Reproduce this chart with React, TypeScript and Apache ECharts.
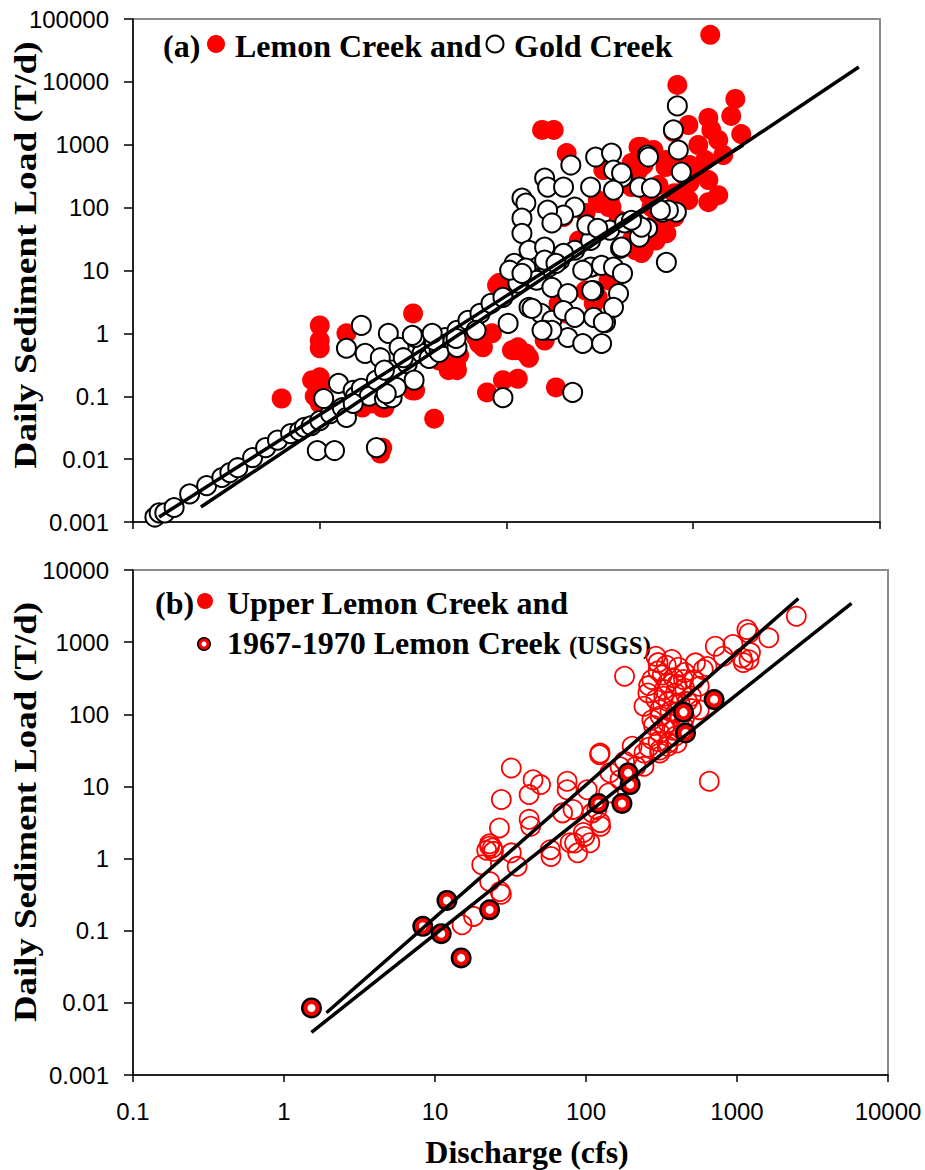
import React, { useEffect, useRef } from "react";
import * as echarts from "echarts";

// Panel (a): Lemon Creek (red filled) and Gold Creek (white) — [discharge cfs, load T/d]
const lemonCreek: number[][] = [
  [10, 1.34], [10, 0.77], [10, 0.58], [10, 0.2], [10, 0.15], [13.9, 1.0], [31.6, 2.08], [6.25, 0.092],
  [10, 0.077], [19.1, 0.077], [22.2, 0.066], [41, 0.044], [32.4, 0.124], [51.7, 0.33], [54.3, 0.26],
  [74.8, 0.6], [91, 6.3], [115, 0.6], [132, 0.41], [160, 0.77], [78.6, 0.115], [95.7, 0.18], [115, 0.19],
  [184, 0.138], [21.1, 0.0123], [155, 1720], [179, 1720], [210, 738], [509, 920], [467, 512], [1233, 56000],
  [822, 8950], [1680, 5350], [1205, 2670], [1597, 2870], [1806, 1480], [1250, 1720], [1361, 1190], [783, 1600],
  [528, 920], [1160, 571], [1064, 396], [1205, 274], [1205, 122], [908, 306], [802, 571], [710, 442], [509, 396],
  [467, 212], [597, 102], [710, 63], [528, 19], [398, 63], [352, 102], [953, 245], [793, 71], [542, 21], [718, 39],
  [308, 132], [357, 132], [311, 118], [365, 102], [265, 82], [265, 4.8], [300, 3.4], [352, 7.0], [467, 30],
  [467, 23.5], [107, 0.54], [127, 0.48], [162, 1.0], [207, 2.08], [190, 3.0], [68.7, 0.86], [83.6, 1.0],
  [53.7, 0.6], [89, 5.8], [71.2, 0.69], [53.7, 0.31], [31.3, 0.124], [21.6, 0.066], [21.6, 0.0152], [112, 0.54],
  [9.1, 0.18], [9.4, 0.1], [10.6, 0.085], [11.7, 0.059], [16.9, 0.066], [43.6, 0.37], [55.7, 0.45], [49, 0.26],
  [97, 4.5], [202, 71], [244, 30], [293, 11.3], [308, 3.75], [293, 3.0], [542, 476], [718, 571], [953, 476],
  [491, 274], [793, 170], [630, 57], [491, 21], [630, 30],
  [942, 2060], [1448, 687], [1064, 990], [612, 825], [651, 228], [942, 132], [1361, 158], [580, 158],
  [424, 274], [330, 396],
];

const goldCreek: number[][] = [
  [1.31, 0.0012], [1.38, 0.0014], [1.48, 0.0014], [1.66, 0.0017], [2.01, 0.0028], [2.48, 0.0038], [2.99, 0.0051],
  [3.3, 0.0061], [3.64, 0.0073], [4.37, 0.0106], [5.13, 0.0152], [5.94, 0.02], [6.98, 0.0255], [7.8, 0.028],
  [8.28, 0.032], [9.0, 0.034], [10, 0.041], [11.4, 0.053], [13.2, 0.066], [10.5, 0.092], [12.6, 0.16],
  [15.1, 0.124], [13.9, 0.046], [15.5, 0.1], [16.7, 0.133], [18.4, 0.1], [22.2, 0.092], [20.1, 0.18],
  [24.4, 0.26], [26.6, 0.21], [29.4, 0.33], [32, 0.18], [35.3, 0.48], [38.5, 0.4], [41, 0.6], [43.6, 0.5],
  [46.9, 0.86], [54.3, 1.12], [62.2, 1.61], [72.1, 2.08], [82.6, 3.0], [95.7, 3.75], [115, 6.3], [138, 7.8],
  [168, 11.3], [193, 14.6], [232, 21], [282, 30], [357, 44], [429, 57],
  [9.7, 0.0137], [12, 0.0137], [20.1, 0.0152], [95.7, 0.095], [226, 0.115],
  [16.7, 1.34], [23.3, 1.0], [13.9, 0.58], [17.5, 0.48], [21.1, 0.41], [32.4, 0.86], [41, 0.77], [26.6, 0.6],
  [28, 0.41], [22.2, 0.26], [15.1, 0.077], [24.4, 0.095], [68.7, 1.12], [51.7, 0.77], [54.3, 0.6], [102, 1.44],
  [121, 142], [127, 118], [160, 295], [166, 212], [221, 476], [202, 212], [300, 638], [365, 738], [374, 396],
  [282, 212], [418, 306], [374, 190], [569, 687], [832, 825], [863, 367], [515, 212], [597, 205], [684, 85],
  [812, 85], [232, 102], [202, 76], [166, 91], [121, 68], [121, 39], [175, 57], [269, 53], [308, 47], [491, 57],
  [569, 47], [515, 34], [132, 21], [160, 23.5], [202, 18.8], [110, 13], [127, 10.9], [160, 14.6], [184, 13],
  [282, 11.3], [323, 12.1], [408, 22.6], [256, 10.1], [374, 11.3], [418, 9.0], [718, 13.5], [145, 7.0],
  [175, 5.4], [213, 4.3], [293, 4.8], [398, 4.3], [132, 2.6], [153, 2.08], [175, 1.61], [202, 2.3], [232, 1.8],
  [160, 1.12], [213, 0.86], [256, 0.69], [323, 0.69], [293, 1.8], [339, 1.5], [374, 2.6], [104, 10.1], [121, 9.0],
  [822, 4150], [783, 1720], [576, 638], [413, 355], [736, 91], [667, 91], [528, 49], [467, 63], [413, 23.5],
  [31.3, 0.93], [40, 1.0], [25.7, 0.138], [22.7, 0.11], [53.7, 0.83], [175, 1.12], [286, 4.8], [137, 2.5],
  [155, 1.12], [330, 1.5],
];

const goldFit: number[][] = [[1.38, 0.0012], [1850, 990]];
const lemonFit: number[][] = [[2.31, 0.00173], [7700, 17200]];

// Panel (b): Upper Lemon Creek (red hollow) and 1967-1970 Lemon Creek USGS
const upperLemon: number[][] = [
  [180, 337], [32, 18], [123, 27.6], [50, 10.6], [42, 7.7], [75, 11.8], [75, 9.0], [27.5, 6.6], [70, 4.3],
  [82, 4.8], [42, 3.5], [43, 2.8], [26.7, 2.66], [23, 1.48], [22, 1.3], [23, 1.6], [24, 1.4], [24.4, 1.26],
  [32, 1.2], [20.4, 0.82], [35, 0.78], [23, 0.48], [27.5, 0.32], [27, 0.35], [18, 0.158], [15.1, 0.121],
  [58.6, 1.07], [84, 1.64], [98, 2.03], [88, 1.2], [125, 2.8], [110, 4.3], [141, 8.1], [168, 12.4], [202, 36],
  [242, 29], [308, 32], [348, 36], [273, 45], [655, 11.8],
  [290, 638], [370, 574], [531, 516], [598, 417], [273, 303], [348, 273], [442, 303], [563, 244], [257, 198],
  [327, 178], [392, 198], [499, 178], [242, 129], [308, 116], [392, 104], [563, 116], [273, 84], [348, 76],
  [442, 68], [308, 55], [392, 50], [308, 29], [214, 19], [180, 22.3], [242, 19],
  [718, 877], [940, 926], [1163, 1496], [1200, 1330], [1622, 1148], [1081, 605], [1200, 570], [811, 638],
  [2472, 2286], [124, 29], [144, 15.5], [168, 18.8], [102, 9], [44.6, 12.4], [118, 4.8], [124, 3.15], [96, 2.3],
  [78.5, 1.66], [106, 1.66], [58, 1.33], [1228, 716], [1101, 521], [634, 459],
  [260, 250], [300, 400], [320, 350], [330, 220], [350, 150], [380, 320], [400, 260], [420, 140], [450, 230],
  [470, 150], [290, 160], [310, 95], [360, 110], [420, 90], [280, 70], [330, 65], [380, 60], [300, 42],
  [350, 40], [260, 35], [400, 40], [450, 90], [500, 120], [520, 300], [340, 480], [410, 450], [300, 520], [450, 380],
];

const usgsLemon: number[][] = [
  [1.52, 0.0085], [8.3, 0.115], [11.0, 0.091], [12.0, 0.263], [14.9, 0.042], [23.0, 0.195], [121, 5.8],
  [173, 5.8], [190, 15.4], [196, 10.6], [442, 107], [456, 55], [705, 160],
];

const upperFit: number[][] = [[1.91, 0.0073], [2550, 4025]];
const usgsFit: number[][] = [[1.52, 0.0039], [5730, 3435]];

const fmt = (v: number) =>
  v >= 1 ? String(Math.round(v)) : String(Number(v.toPrecision(1)));

const SERIF = '"Liberation Serif", "Times New Roman", serif';
const SANS = '"Liberation Sans", Arial, sans-serif';

function yAxis(gridIndex: number, min: number, max: number) {
  return {
    type: "log",
    logBase: 10,
    gridIndex,
    min,
    max,
    splitNumber: 10,
    axisLine: { show: true, onZero: false, lineStyle: { color: "#000", width: 1.5 } },
    axisTick: { show: true, length: 9, lineStyle: { color: "#000", width: 1.5 } },
    minorTick: { show: false },
    splitLine: { show: false },
    axisLabel: { formatter: fmt, fontSize: 24, fontFamily: SANS, color: "#000", margin: 24 },
  };
}

function xAxis(gridIndex: number, min: number, max: number, labels: boolean) {
  return {
    type: "log",
    logBase: 10,
    gridIndex,
    min,
    max,
    splitNumber: 10,
    axisLine: { show: true, onZero: false, lineStyle: { color: "#000", width: 1.5 } },
    axisTick: { show: true, length: 7, lineStyle: { color: "#000", width: 1.5 } },
    minorTick: { show: false },
    splitLine: { show: false },
    axisLabel: { show: labels, formatter: fmt, fontSize: 24, fontFamily: SANS, color: "#000", margin: 24 },
  };
}

const txt = (x: number, y: number, text: string, size: number, extra: any = {}) => ({
  type: "text",
  x,
  y,
  ...extra,
  style: {
    text,
    fontSize: size,
    fontWeight: "bold",
    fontFamily: SERIF,
    fill: "#000",
    align: extra.align || "left",
    verticalAlign: "middle",
    textAlign: extra.align || "left",
    textVerticalAlign: "middle",
  },
});

export default function App() {
  const ref = useRef<HTMLDivElement>(null);
  useEffect(() => {
    document.body.style.margin = "0";
    const chart = echarts.init(ref.current!, undefined, { renderer: "svg" });
    const option: any = {
      animation: false,
      backgroundColor: "#fff",
      grid: [
        { left: 133, top: 19, width: 747, height: 503, show: true, borderColor: "#8c8c8c", borderWidth: 2, backgroundColor: "#fff" },
        { left: 133, top: 570, width: 755, height: 505, show: true, borderColor: "#8c8c8c", borderWidth: 2, backgroundColor: "#fff" },
      ],
      xAxis: [xAxis(0, 1, 10000, false), xAxis(1, 0.1, 10000, true)],
      yAxis: [yAxis(0, 0.001, 100000), yAxis(1, 0.001, 10000)],
      series: [
        {
          name: "Lemon Creek", type: "scatter", xAxisIndex: 0, yAxisIndex: 0, data: lemonCreek,
          symbol: "circle", symbolSize: 20, itemStyle: { color: "#ff0000", opacity: 1 }, z: 2,
        },
        {
          name: "Gold Creek", type: "scatter", xAxisIndex: 0, yAxisIndex: 0, data: goldCreek,
          symbol: "circle", symbolSize: 19, itemStyle: { color: "#fff", borderColor: "#000", borderWidth: 2, opacity: 1 }, z: 3,
        },
        {
          name: "Gold fit", type: "line", xAxisIndex: 0, yAxisIndex: 0, data: goldFit, showSymbol: false, symbol: "none",
          lineStyle: { color: "#000", width: 3.5 }, z: 4,
        },
        {
          name: "Lemon fit", type: "line", xAxisIndex: 0, yAxisIndex: 0, data: lemonFit, showSymbol: false, symbol: "none",
          lineStyle: { color: "#000", width: 3.5 }, z: 4,
        },
        {
          name: "Upper Lemon Creek", type: "scatter", xAxisIndex: 1, yAxisIndex: 1, data: upperLemon,
          symbol: "circle", symbolSize: 19, itemStyle: { color: "rgba(255,255,255,0)", borderColor: "#ff0000", borderWidth: 1.8, opacity: 1 }, z: 2,
        },
        {
          name: "USGS outer", type: "scatter", xAxisIndex: 1, yAxisIndex: 1, data: usgsLemon,
          symbol: "circle", symbolSize: 21, itemStyle: { color: "#000", opacity: 1 }, z: 3,
        },
        {
          name: "USGS inner", type: "scatter", xAxisIndex: 1, yAxisIndex: 1, data: usgsLemon,
          symbol: "circle", symbolSize: 12, itemStyle: { color: "#fff", borderColor: "#ff0000", borderWidth: 4, opacity: 1 }, z: 3,
        },
        {
          name: "Upper fit", type: "line", xAxisIndex: 1, yAxisIndex: 1, data: upperFit, showSymbol: false, symbol: "none",
          lineStyle: { color: "#000", width: 3.5 }, z: 4,
        },
        {
          name: "USGS fit", type: "line", xAxisIndex: 1, yAxisIndex: 1, data: usgsFit, showSymbol: false, symbol: "none",
          lineStyle: { color: "#000", width: 3.5 }, z: 4,
        },
      ],
      graphic: [
        // panel (a) legend
        txt(163, 46, "(a)", 32),
        { type: "circle", shape: { cx: 216, cy: 44, r: 9 }, style: { fill: "#ff0000" } },
        txt(235, 46, "Lemon Creek and", 32),
        { type: "circle", shape: { cx: 495, cy: 44, r: 8.5 }, style: { fill: "#fff", stroke: "#000", lineWidth: 2 } },
        txt(514, 46, "Gold Creek", 32),
        // panel (b) legend
        txt(155, 603, "(b)", 32),
        { type: "circle", shape: { cx: 205, cy: 601, r: 8 }, style: { fill: "#ff0000" } },
        txt(227, 603, "Upper Lemon Creek and", 32),
        { type: "circle", shape: { cx: 204, cy: 644, r: 7 }, style: { fill: "#000" } },
        { type: "circle", shape: { cx: 204, cy: 644, r: 4 }, style: { fill: "#fff", stroke: "#ff0000", lineWidth: 3 } },
        txt(227, 643, "1967-1970 Lemon Creek", 32),
        txt(569, 645, "(USGS)", 25),
        // axis titles
        txt(25, 255, "Daily Sediment Load (T/d)", 32, { rotation: Math.PI / 2, scaleX: 1.17, align: "center" }),
        txt(25, 812, "Daily Sediment Load (T/d)", 32, { rotation: Math.PI / 2, scaleX: 1.15, align: "center" }),
        txt(527, 1152, "Discharge (cfs)", 32, { align: "center" }),
      ],
    };
    chart.setOption(option);
    return () => chart.dispose();
  }, []);
  return <div ref={ref} style={{ width: 925, height: 1170 }} />;
}
